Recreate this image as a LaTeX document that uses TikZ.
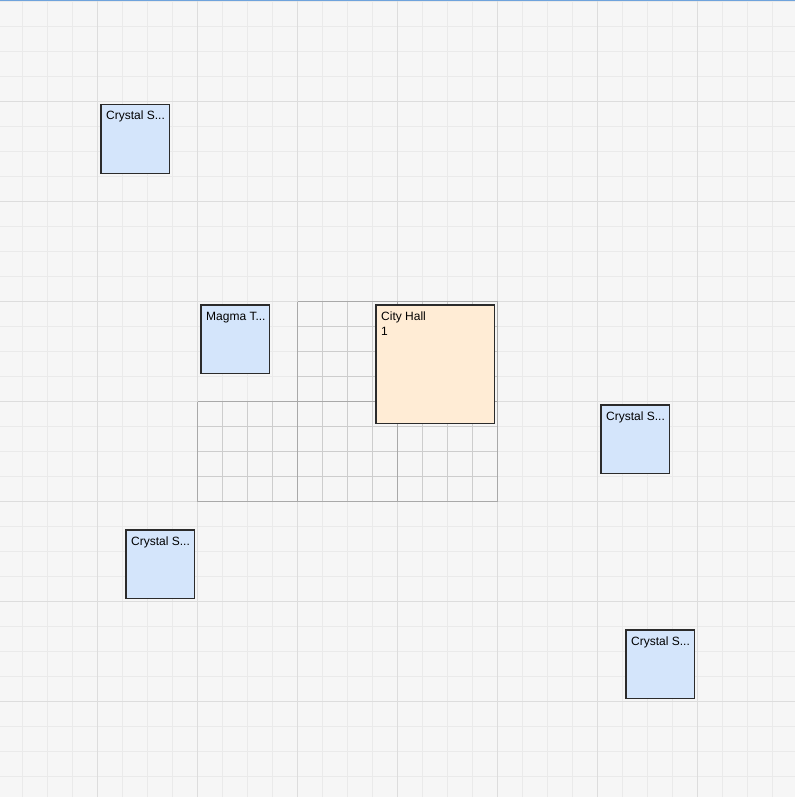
\documentclass[tikz,border=0pt]{standalone}
\usepackage{fontspec}
\setmainfont{Liberation Sans}
\begin{document}
\begin{tikzpicture}[x=1pt,y=1pt,
  minorgrid/.style={draw=gridminor,line width=1pt},
  majorgrid/.style={draw=gridmajor,line width=1.2pt},
  dminor/.style={draw=darkminor,line width=1pt},
  dmajor/.style={draw=darkmajor,line width=1.3pt},
  box/.style={draw=boxborder,line width=1.5pt,minimum width=68.5pt,minimum height=68.5pt,inner sep=0pt,anchor=north west},
  bluebox/.style={box,fill=boxblue},
  hallbox/.style={box,fill=boxorange,minimum width=118.5pt,minimum height=118.5pt},
  lbl/.style={anchor=base west,inner sep=0pt,font=\fontsize{12}{15}\selectfont,text=black,align=left}
]
\definecolor{bg}{HTML}{F6F6F6}
\definecolor{gridminor}{HTML}{EAEAEA}
\definecolor{gridmajor}{HTML}{DDDDDD}
\definecolor{darkminor}{HTML}{CDCDCD}
\definecolor{darkmajor}{HTML}{A9A9A9}
\definecolor{boxborder}{HTML}{2B2B2B}
\definecolor{boxblue}{HTML}{D4E5FB}
\definecolor{boxorange}{HTML}{FFECD5}
\definecolor{topline}{HTML}{6FA3DC}
\useasboundingbox (0,0) rectangle (795,-797);
\fill[bg] (0,0) rectangle (795,-797);
% light grid
\foreach \i in {0,...,31} {
  \draw[minorgrid] ({22.5+25*\i},0) -- ({22.5+25*\i},-797);
  \draw[minorgrid] (0,{-1.5-25*\i}) -- (795,{-1.5-25*\i});
}
\foreach \i in {0,...,6} {
  \draw[majorgrid] ({97.5+100*\i},0) -- ({97.5+100*\i},-797);
  \draw[majorgrid] (0,{-101.5-100*\i}) -- (795,{-101.5-100*\i});
}
% darker grid region
\foreach \x in {322.5,347.5,372.5,422.5,447.5,472.5} \draw[dminor] (\x,-301.5) -- (\x,-501.5);
\foreach \x in {222.5,247.5,272.5} \draw[dminor] (\x,-401.5) -- (\x,-501.5);
\foreach \y in {326.5,351.5,376.5} \draw[dminor] (297.5,-\y) -- (497.5,-\y);
\foreach \y in {426.5,451.5,476.5} \draw[dminor] (197.5,-\y) -- (497.5,-\y);
\draw[dmajor] (297.5,-301.5) -- (497.5,-301.5);
\draw[dmajor] (197.5,-401.5) -- (497.5,-401.5);
\draw[dmajor] (197.5,-501.5) -- (497.5,-501.5);
\draw[dmajor] (197.5,-401.5) -- (197.5,-501.5);
\draw[dmajor] (297.5,-301.5) -- (297.5,-501.5);
\draw[dmajor] (397.5,-301.5) -- (397.5,-501.5);
\draw[dmajor] (497.5,-301.5) -- (497.5,-501.5);
% top blue line
\fill[topline] (0,0) rectangle (795,-1.5);
% boxes
\node[bluebox] (cs1) at (100,-104) {};
\node[lbl] at ([xshift=6pt,yshift=-16pt]cs1.north west) {Crystal S...};
\node[bluebox] (mt) at (200,-304) {};
\node[lbl] at ([xshift=6pt,yshift=-16pt]mt.north west) {Magma T...};
\node[hallbox] (ch) at (375,-304) {};
\node[lbl] at ([xshift=6pt,yshift=-31pt]ch.north west) {City Hall\\1};
\node[bluebox] (cs2) at (600,-404) {};
\node[lbl] at ([xshift=6pt,yshift=-16pt]cs2.north west) {Crystal S...};
\node[bluebox] (cs3) at (125,-529) {};
\node[lbl] at ([xshift=6pt,yshift=-16pt]cs3.north west) {Crystal S...};
\node[bluebox] (cs4) at (625,-629) {};
\node[lbl] at ([xshift=6pt,yshift=-16pt]cs4.north west) {Crystal S...};
\end{tikzpicture}
\end{document}
